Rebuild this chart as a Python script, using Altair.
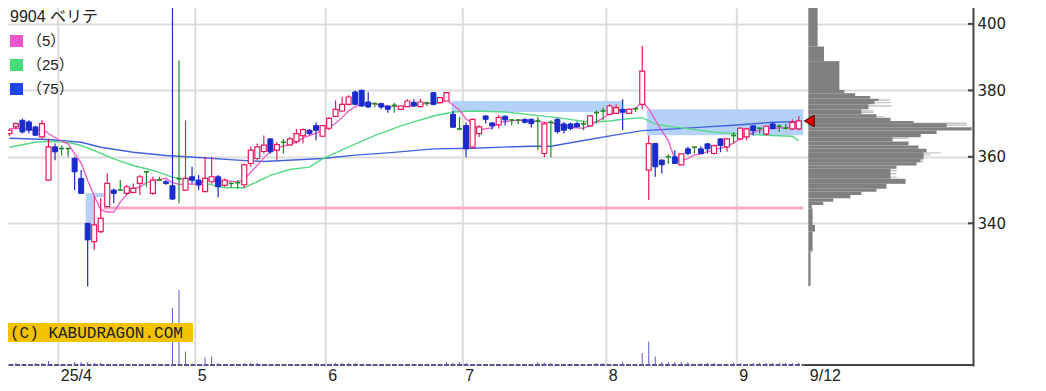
import altair as alt
import pandas as pd

# ---------------- data ----------------
# daily candles (trading-day index 0 = 2025-03-19 ... 121 = 2025-09-12)
opens = [367, 369, 371, 370.5, 369, 366, 353, 363, 362.5, 362.5,
         359.5, 353.5, 340, 334.5, 337.5, 345, 350, 350, 349, 349.3,
         352, 355.5, 349, 353, 352.5, 351.3, 353.4, 350, 354, 353,
         349.5, 352.5, 354, 351.4, 352, 352.2, 351.6, 358, 359.5, 361.6,
         365.4, 362, 364.4, 363.6, 364.6, 366.4, 368, 369.4, 366.2, 368.6,
         372.2, 373.8, 375.8, 379.5, 380, 376.5, 376, 376, 375.3, 375.5,
         374.3, 375.1, 376.4, 375.1, 376.3, 379.3, 376.3, 376.8, 372.8, 368.4,
         369.4, 362.9, 367, 372.3, 370.2, 369.6, 372.2, 371.1, 371.1, 371.3,
         371.3, 370.8, 361, 370.4, 371.3, 369.9, 369.9, 370, 369.9, 369.3,
         373.3, 373.8, 372.8, 373.1, 374.3, 373.1, 374.5, 375.8, 356, 364,
         359, 360, 360, 357.6, 362.4, 362.9, 362.4, 363.9, 361, 365.4,
         363, 366.4, 365.4, 366, 369.3, 368.6, 366.9, 369.9, 369.2, 368.6,
         368.4, 368.4]
highs = [368.5, 370.4, 371.5, 371, 369.3, 371, 365.4, 364, 363.4, 362.7,
         360, 356, 340, 348, 347.5, 355, 350.5, 353, 351.5, 352,
         354.5, 355.7, 354, 354, 353, 412, 389, 371, 357, 354.5,
         360, 360, 354.5, 353.5, 352.3, 353, 358, 363, 364, 366.4,
         365.5, 364.5, 365.4, 366, 368.4, 368.6, 368.3, 370.4, 369.6, 372,
         377, 378, 378.5, 380, 380.3, 379.4, 376.4, 376.3, 375.5, 376.3,
         375.5, 377.3, 377.3, 377.5, 376.5, 379.5, 378, 379.5, 373.8, 372,
         370.3, 371.5, 369.5, 372.5, 370.5, 372.5, 372.5, 371.3, 371.3, 371.5,
         371.5, 372, 370.5, 371, 371.6, 370.5, 370.3, 370.6, 370.8, 372.6,
         374, 374.8, 375.8, 375.8, 377.3, 374.5, 375, 393.4, 366.4, 364.2,
         359.2, 360.8, 362, 361, 363, 363, 363.2, 364.2, 363.7, 365.6,
         365.6, 367.4, 369, 368.6, 369.5, 368.8, 369.5, 370.4, 369.8, 369.9,
         371.3, 372.3]
lows = [366.3, 368.4, 367, 367, 366.3, 365.5, 353, 359, 360.4, 360,
        350, 349, 321, 332, 337, 345, 346, 350, 348.5, 349,
        348.5, 351, 348.5, 353, 351.5, 347, 346, 350, 352, 350,
        349.5, 352, 347.8, 351, 350.8, 350.5, 350.6, 357, 359, 361,
        361, 359, 361, 363.5, 364, 364, 366.5, 365, 366, 368,
        372, 373.5, 375.5, 375.5, 375, 374.8, 374.9, 374.3, 373.3, 373.3,
        374, 375, 375, 375, 375.3, 375.5, 376, 376.8, 368.9, 368,
        359.9, 362.5, 366, 370, 368.2, 368.5, 369.4, 369.4, 369.8, 370,
        368.8, 362, 359.9, 359.9, 367, 367, 368, 368.9, 368, 369,
        370, 371, 372.5, 373, 368, 373, 373.5, 374.3, 347, 354,
        355, 357.9, 358, 357.5, 360.5, 361, 360.9, 361, 360.7, 361.4,
        361.5, 364, 365, 365, 366.4, 367, 366.5, 368.3, 367.5, 368.3,
        368, 368]
closes = [368, 370, 367.5, 368, 366.5, 370, 363, 361.5, 362.5, 362.5,
          355.5, 349, 335, 339.5, 341.5, 352, 349, 350, 351, 350.5,
          354, 355.5, 353, 353, 352, 347.3, 353.4, 353.5, 353, 351.5,
          353.5, 354, 351, 353, 352, 352.2, 357.6, 362, 363, 363.5,
          361.5, 363.7, 364.4, 365.4, 367, 368.2, 367, 368, 369.4, 371.6,
          374.3, 375.8, 378, 375.8, 375.3, 375, 376, 375, 374.3, 375.5,
          375.3, 376.8, 375.3, 376.5, 376.3, 375.8, 377.8, 379.3, 368.9, 368.4,
          362.4, 371.3, 369, 371.3, 369.3, 371.9, 371.1, 371.1, 371.1, 370.4,
          370, 370.8, 369.9, 370.4, 367.6, 368, 368.5, 369, 369.9, 372.3,
          373.3, 373.8, 375.3, 374.8, 373.4, 374.3, 374.5, 385.8, 364, 357,
          357.6, 360, 358, 360.9, 361, 362.9, 361, 362.4, 363.4, 363.4,
          365.4, 366.4, 368.6, 368.4, 367.9, 368.6, 369.2, 368.5, 369.2, 368.6,
          370.4, 370.8]
volumes = [20, 30, 20, 20, 30, 30, 50, 20, 20, 20,
           40, 40, 40, 30, 30, 20, 20, 20, 20, 20,
           20, 20, 20, 20, 20, 580, 760, 145, 25, 20,
           85, 95, 28, 20, 15, 15, 30, 30, 30, 20,
           15, 15, 15, 15, 15, 15, 20, 30, 15, 15,
           30, 30, 30, 30, 15, 15, 15, 15, 15, 15,
           15, 15, 15, 15, 15, 15, 20, 40, 30, 40,
           30, 20, 15, 15, 15, 15, 15, 15, 15, 15,
           20, 40, 30, 30, 15, 15, 15, 15, 15, 20,
           30, 30, 15, 15, 40, 15, 20, 130, 245, 95,
           40, 40, 40, 40, 40, 20, 30, 30, 30, 15,
           20, 30, 30, 20, 30, 30, 30, 30, 30, 30,
           30, 30]

# moving averages
ma5 = [368.3, 368.6, 368.4, 368.2, 368.0, 368.4, 367.0, 365.8, 364.7, 363.9,
       361.0, 358.2, 352.9, 348.3, 344.1, 343.4, 343.4, 346.4, 348.7, 350.5,
       350.9, 352.2, 352.8, 353.2, 353.5, 352.2, 351.7, 351.8, 351.8, 351.7,
       353.0, 353.1, 352.6, 352.6, 352.7, 352.4, 353.2, 355.4, 357.4, 359.7,
       361.5, 362.7, 363.2, 363.7, 364.4, 365.7, 366.4, 367.1, 367.9, 368.8,
       370.1, 371.8, 373.8, 375.1, 375.8, 376.0, 376.0, 375.4, 375.1, 375.2,
       375.2, 375.4, 375.4, 375.9, 376.0, 376.1, 376.3, 377.1, 375.6, 374.0,
       371.4, 370.1, 368.0, 368.5, 368.7, 370.6, 370.5, 370.9, 370.9, 371.1,
       370.7, 370.7, 370.4, 370.3, 369.7, 369.3, 368.9, 368.7, 368.6, 369.5,
       370.6, 371.7, 372.9, 373.9, 374.1, 374.3, 374.5, 376.6, 374.4, 371.1,
       367.8, 364.9, 359.3, 358.7, 359.5, 360.6, 360.8, 361.6, 362.1, 362.6,
       363.1, 364.2, 365.4, 366.4, 367.3, 368.0, 368.5, 368.5, 368.7, 368.8,
       369.2, 369.5]
ma25_day = [0, 4, 6, 9, 11, 13, 16, 19, 22, 25, 28, 30, 33, 36, 38, 40, 43, 46, 48, 52,
            56, 60, 61, 65, 68, 71, 76, 84, 89, 92, 94, 97, 99, 101, 104, 108, 112, 117, 120, 121]
ma25_val = [362.9, 364.4, 364.7, 364.4, 363.4, 361.9, 359.4, 357.4, 355.9, 353.9,
            353.0, 352.0, 350.7, 350.7, 352.5, 354.4, 356.2, 356.9, 359.4, 363.0,
            366.4, 369.3, 369.9, 372.3, 373.5, 373.8, 373.5, 371.8, 370.4, 370.8,
            371.3, 371.8, 369.9, 369.2, 368.5, 367.4, 366.9, 366.4, 366.2, 364.8]
ma75_day = [0, 6, 11, 14, 19, 24, 29, 35, 39, 48, 53, 58, 65, 71, 80, 83, 88, 93, 97, 102,
            105, 111, 117, 121]
ma75_val = [365.6, 365.2, 364.4, 362.9, 361.4, 360.4, 359.8, 359.0, 358.6, 359.5,
            360.5, 361.2, 362.4, 362.6, 363.2, 363.2, 364.9, 366.6, 367.9, 368.4,
            368.8, 369.5, 370.4, 370.6]

# unfilled price gaps (light blue boxes)
gap_from = [11.7, 12.8, 67.8, 97.7]
gap_to = [12.8, 14.5, 93.9, 121.7]
gap_lo = [340.0, 347.8, 373.5, 366.5]
gap_hi = [349.1, 349.1, 376.8, 374.3]

# horizontal pink line
line_from, line_to, line_price = 14.5, 121.7, 344.6

# volume-by-price profile (price bin edges, amounts)
prof_edges = [321.1, 331.5, 337.5, 339.5, 344.5, 345.5, 346.5, 347.5, 348.5, 349.5, 350.4,
              351.9, 353.4, 356.4, 357.4, 358.4, 359.4, 361.4, 362.4, 363.4, 364.6, 365.9,
              366.9, 367.9, 368.9, 370.1, 370.8, 371.8, 372.8, 374.3, 375.8, 376.8, 377.5,
              378.3, 379.1, 380.1, 388.8, 393.2, 407.2]
prof_amount = [2.3, 4.3, 6.7, 4.3, 3.5, 15, 25, 42, 53, 68, 78, 97, 82, 88, 108, 112, 115, 118,
               110, 100, 84, 112, 128, 163, 138, 105, 82, 68, 53, 60, 66, 70, 61.7, 46.7, 36,
               31, 15.7, 9.3]
fine_price = [377.1, 376.3, 375.3, 373.8, 373.3, 372.1, 370.1, 369.5, 366.4, 365.6, 364.9,
              361.2, 360.6, 359.2, 358.6, 355.9, 354.9, 353.9, 352.2]
fine_amount = [81, 82, 83, 65, 65, 75, 158, 158, 113, 100, 83, 132, 122, 115, 115, 88, 88, 88, 97]

month_first_day = [8, 29, 49, 70, 92, 112]
month_labels = ["25/4", "5", "6", "7", "8", "9"]
last_label = "9/12"
price_ticks = [340, 360, 380, 400]
title_text = "9904 ベリテ"
legend_labels = ["（5）", "（25）", "（75）"]
credit = "(C) KABUDRAGON.COM"

# ---------------- chart ----------------
W, H = 971, 366
XD = [-1.13, 147.7]
YD = [297.05, 407.2]
RED, BLUE, GREEN = "#e8195a", "#1a2ccc", "#1f8a1f"
C5, C25, C75 = "#ee55cc", "#55d985", "#4262dd"

N = len(closes)
kinds = ["up" if c > o else ("down" if c < o else "flat") for o, c in zip(opens, closes)]
cdf = pd.DataFrame(dict(k=list(range(N)), o=opens, h=highs, l=lows, c=closes, kind=kinds))

xsc = alt.Scale(domain=XD, nice=False, zero=False)
ysc = alt.Scale(domain=YD, nice=False, zero=False)

tick_vals = [m - 0.5 for m in month_first_day] + [N + 0.3]
tick_text = month_labels + [last_label]
expr = ""
for v, t in zip(tick_vals, tick_text):
    expr += f"datum.value == {v} ? '{t}' : "
expr += "''"

x_axis = alt.Axis(values=tick_vals, labelExpr=expr, title=None, grid=False, ticks=False,
                  domain=False, labelAlign="left", labelFont="Liberation Sans",
                  labelFontSize=16, labelColor="#222", labelPadding=1, labelOffset=2,
                  labelOverlap=False, labelFlush=False)
y_axis = alt.Axis(orient="right", values=price_ticks, title=None, grid=True,
                  gridColor="#dcdcdc", gridWidth=2, ticks=False, domain=True,
                  domainColor="#444", domainWidth=2, labelFont="DejaVu Sans",
                  labelFontSize=15, labelColor="#222", labelPadding=4)


def X(f):
    return alt.X(f, type="quantitative", scale=xsc, axis=x_axis)


def Y(f):
    return alt.Y(f, type="quantitative", scale=ysc, axis=y_axis)


vgrid = alt.Chart(pd.DataFrame({"g": tick_vals[:-1]})).mark_rule(
    color="#dcdcdc", strokeWidth=2).encode(x=X("g"), y=alt.value(0), y2=alt.value(H))

gaps = alt.Chart(pd.DataFrame(dict(a=gap_from, b=gap_to, lo=gap_lo, hi=gap_hi))).mark_rect(
    color="#b4d2f7").encode(x=X("a"), x2="b", y=Y("lo"), y2="hi")

pline = alt.Chart(pd.DataFrame(dict(a=[line_from], b=[line_to], p=[line_price]))).mark_rule(
    color="#f6a9cc", strokeWidth=3).encode(x=X("a"), x2="b", y=Y("p"))

l75 = alt.Chart(pd.DataFrame(dict(k=ma75_day, v=ma75_val))).mark_line(
    color=C75, strokeWidth=1.4).encode(x=X("k"), y=Y("v"))
l25 = alt.Chart(pd.DataFrame(dict(k=ma25_day, v=ma25_val))).mark_line(
    color=C25, strokeWidth=1.4).encode(x=X("k"), y=Y("v"))
l5 = alt.Chart(pd.DataFrame(dict(k=list(range(N)), v=ma5))).mark_line(
    color=C5, strokeWidth=1.3).encode(x=X("k"), y=Y("v"))

cscale = alt.Scale(domain=["up", "down", "flat"], range=[RED, BLUE, GREEN])
base = alt.Chart(cdf)
wicks = base.mark_rule(strokeWidth=1.2, clip=True).encode(
    x=X("k"), y=Y("l"), y2="h", color=alt.Color("kind:N", scale=cscale, legend=None))
bodies_up = base.transform_filter("datum.kind == 'up'").transform_calculate(
    x0="datum.k - 0.38", x1="datum.k + 0.38").mark_rect(
    fill="white", stroke=RED, strokeWidth=1.2).encode(x=X("x0"), x2="x1", y=Y("o"), y2="c")
bodies_dn = base.transform_filter("datum.kind == 'down'").transform_calculate(
    x0="datum.k - 0.38", x1="datum.k + 0.38").mark_rect(
    fill=BLUE, stroke=BLUE, strokeWidth=1).encode(x=X("x0"), x2="x1", y=Y("o"), y2="c")
doji = base.transform_filter("datum.kind == 'flat'").transform_calculate(
    x0="datum.k - 0.38", x1="datum.k + 0.38").mark_rule(
    color=GREEN, strokeWidth=1.6).encode(x=X("x0"), x2="x1", y=Y("o"))

inticks = alt.Chart(pd.DataFrame({"p": price_ticks})).mark_rule(
    color="#444", strokeWidth=2).encode(x=alt.value(W - 5), x2=alt.value(W), y=Y("p"))

bdash = alt.Chart(pd.DataFrame(dict(a=[XD[0]], b=[N - 0.3]))).mark_rule(
    color="#555577", strokeWidth=2, strokeDash=[5, 1.5]).encode(
    x=X("a"), x2="b", y=alt.value(H - 1))
bsolid = alt.Chart(pd.DataFrame(dict(a=[N - 0.3], b=[XD[1]]))).mark_rule(
    color="#444", strokeWidth=2).encode(x=X("a"), x2="b", y=alt.value(H - 1))

price_layer = alt.layer(vgrid, gaps, pline, l75, l25, l5, wicks, bodies_up, bodies_dn, doji,
                        inticks, bdash, bsolid)

# volume bars (own scale)
vmax = max(volumes)
vol_layer = alt.Chart(pd.DataFrame(dict(k=list(range(N)), v=volumes))).transform_calculate(
    z="0").mark_rule(color="#5b5bd6", strokeWidth=1).encode(
    x=alt.X("k:Q", scale=xsc, axis=None),
    y=alt.Y("v:Q", scale=alt.Scale(domain=[0, vmax * H / 76], nice=False), axis=None),
    y2="z:Q")

# volume-by-price profile (own x scale)
pmax = max(prof_amount)
psc = alt.Scale(domain=[-806.3 / 163.4 * pmax, 164.7 / 163.4 * pmax], nice=False, zero=False)
pdf = pd.DataFrame(dict(lo=prof_edges[:-1], hi=prof_edges[1:], v=prof_amount))
fdf = pd.DataFrame(dict(p=fine_price, v=fine_amount))
fine = alt.Chart(fdf).transform_calculate(z="0").mark_rule(
    color="#c4c4c4", strokeWidth=1.4).encode(
    x=alt.X("z:Q", scale=psc, axis=None), x2="v:Q",
    y=alt.Y("p:Q", scale=ysc, axis=None))
dark = alt.Chart(pdf).transform_calculate(z="0").mark_rect(color="#808080").encode(
    x=alt.X("z:Q", scale=psc, axis=None), x2="v:Q",
    y=alt.Y("lo:Q", scale=ysc, axis=None), y2="hi:Q")
prof_layer = alt.layer(fine, dark)

# last-price marker, drawn above the profile
marker = alt.Chart(pd.DataFrame(dict(k=[N - 1 + 1.6], p=[closes[-1]]))).mark_point(
    shape="triangle-left", filled=True, fill="#e00000", stroke="#400", strokeWidth=1,
    size=130, opacity=1).encode(x=alt.X("k:Q", scale=xsc, axis=None),
                                y=alt.Y("p:Q", scale=ysc, axis=None))

# title, legend, credit
one = alt.Data(values=[{"t": title_text}])
ttl = alt.Chart(one).mark_text(align="left", baseline="alphabetic",
                               font="Liberation Sans, Noto Sans CJK JP", fontSize=16,
                               color="#222").encode(x=alt.value(8), y=alt.value(22), text="t:N")
overlay = [ttl]
for i, (lab, col) in enumerate(zip(legend_labels, [C5, "#44dd77", "#2244ee"])):
    sq = alt.Chart(alt.Data(values=[{"t": lab}])).mark_rect(color=col).encode(
        x=alt.value(8), x2=alt.value(21), y=alt.value(35 + 24 * i), y2=alt.value(47 + 24 * i))
    tx = alt.Chart(alt.Data(values=[{"t": lab}])).mark_text(
        align="left", baseline="middle", font="Liberation Sans, Noto Sans CJK JP",
        fontSize=15, color="#222").encode(x=alt.value(25), y=alt.value(41 + 24 * i), text="t:N")
    overlay += [sq, tx]
wm_box = alt.Chart(alt.Data(values=[{"t": credit}])).mark_rect(color="#f3c300").encode(
    x=alt.value(5), x2=alt.value(191), y=alt.value(323), y2=alt.value(342))
wm_txt = alt.Chart(alt.Data(values=[{"t": credit}])).mark_text(
    align="left", baseline="middle", font="Liberation Mono", fontSize=16,
    color="#222").encode(x=alt.value(8), y=alt.value(333), text="t:N")
overlay += [wm_box, wm_txt]

chart = alt.layer(price_layer, vol_layer, prof_layer, marker, *overlay).resolve_scale(
    x="independent", y="independent").properties(
    width=W, height=H,
    padding={"left": -6, "top": -8, "right": 40, "bottom": 17},
    autosize=alt.AutoSizeParams(type="none"),
    background="white").configure_view(stroke=None)

chart.save("out.html", embed_options={"renderer": "svg", "actions": False})
